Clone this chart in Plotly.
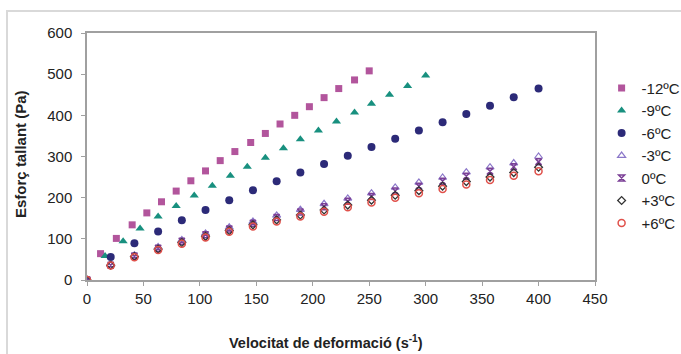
import plotly.graph_objects as go

# Shear rate (s^-1) and shear stress (Pa) per temperature
x_m12 = [0, 12, 26, 40, 53, 66, 79, 92, 105, 118, 131, 145, 158, 171, 184, 197, 210, 223, 237, 250]
y_m12 = [0, 64, 101, 134, 163, 190, 216, 241, 265, 290, 312, 334, 356, 379, 400, 421, 443, 465, 486, 508]

x_m9 = [0, 16, 32, 47, 63, 79, 95, 111, 127, 142, 158, 174, 189, 205, 221, 237, 252, 268, 284, 300]
y_m9 = [0, 58, 94, 125, 154, 180, 205, 229, 253, 275, 297, 320, 342, 363, 385, 407, 428, 450, 471, 497]

x_rate = [0, 21, 42, 63, 84, 105, 126, 147, 168, 189, 210, 231, 252, 273, 294, 315, 336, 357, 378, 400]
y_m6 = [0, 56, 89, 118, 145, 170, 194, 218, 240, 261, 282, 302, 323, 343, 363, 383, 403, 423, 444, 465]
y_m3 = [0, 37, 60, 80, 97, 113, 128, 142, 157, 171, 185, 198, 211, 225, 237, 249, 262, 274, 284, 300]
y_0 = [0, 36, 58, 77, 94, 110, 124, 138, 152, 165, 178, 191, 203, 216, 228, 240, 252, 264, 275, 287]
y_p3 = [0, 36, 57, 75, 91, 106, 120, 134, 146, 158, 170, 182, 194, 206, 217, 228, 239, 250, 261, 274]
y_p6 = [0, 35, 55, 73, 88, 103, 117, 130, 142, 154, 166, 177, 188, 200, 211, 221, 232, 243, 253, 264]

x_ticks = [0, 50, 100, 150, 200, 250, 300, 350, 400, 450]
y_ticks = [0, 100, 200, 300, 400, 500, 600]

series = [
    ("-12ºC", x_m12, y_m12, dict(symbol="square", size=7, color="#B2559C")),
    ("-9ºC", x_m9, y_m9, dict(symbol="triangle-up", size=8, color="#18907F")),
    ("-6ºC", x_rate, y_m6, dict(symbol="circle", size=8, color="#2C2A78")),
    ("-3ºC", x_rate, y_m3, dict(symbol="triangle-up-open", size=7, color="#8B77C9",
                                line=dict(width=1.2, color="#8B77C9"))),
    ("0ºC", x_rate, y_0, dict(symbol="hourglass-open", size=6, color="#7B3F96",
                              line=dict(width=1.5, color="#7B3F96"))),
    ("+3ºC", x_rate, y_p3, dict(symbol="diamond-open", size=6, color="#333333",
                                line=dict(width=1.3, color="#333333"))),
    ("+6ºC", x_rate, y_p6, dict(symbol="circle-open", size=7, color="#E0504A",
                                line=dict(width=1.5, color="#E0504A"))),
]

fig = go.Figure()
for name, xs, ys, mk in series:
    fig.add_trace(go.Scatter(x=xs, y=ys, mode="markers", name=name, marker=mk))

axis_common = dict(
    showgrid=False, zeroline=False, showline=True, mirror=True,
    linecolor="#A0A0A0", linewidth=1.5,
    ticks="outside", ticklen=4, tickcolor="#A0A0A0", tickwidth=1,
    tickfont=dict(family="Liberation Sans", size=15, color="#222222"),
)

fig.update_layout(
    width=681, height=354,
    margin=dict(l=87, r=86, t=33, b=74, autoexpand=False),
    paper_bgcolor="white", plot_bgcolor="white",
    font=dict(family="Liberation Sans", color="#222222"),
    xaxis=dict(range=[0, 450], tickvals=x_ticks, **axis_common),
    yaxis=dict(range=[0, 600], tickvals=y_ticks, ticklabelstandoff=6, **axis_common),
    legend=dict(x=1.013, xanchor="left", y=0.843, yanchor="top",
                font=dict(family="Liberation Sans", size=15, color="#222222"),
                bgcolor="rgba(0,0,0,0)", tracegroupgap=0),
    showlegend=True,
    annotations=[
        dict(text="<b>Velocitat de deformació (s<sup>-1</sup>)</b>", xref="paper", yref="paper",
             x=0.47, y=-0.25, xanchor="center", yanchor="middle", showarrow=False,
             font=dict(family="Liberation Sans", size=14.5, color="#222222")),
        dict(text="<b>Esforç tallant (Pa)</b>", xref="paper", yref="paper",
             x=-0.132, y=0.51, xanchor="center", yanchor="middle", textangle=-90,
             showarrow=False, font=dict(family="Liberation Sans", size=15, color="#222222")),
    ],
    shapes=[
        dict(type="rect", xref="paper", yref="paper",
             x0=-0.1575, x1=1.25, y0=-0.4, y1=1.089,
             line=dict(color="#D9D9D9", width=2), fillcolor="rgba(0,0,0,0)", layer="below"),
    ],
)

fig.write_html("out.html")
